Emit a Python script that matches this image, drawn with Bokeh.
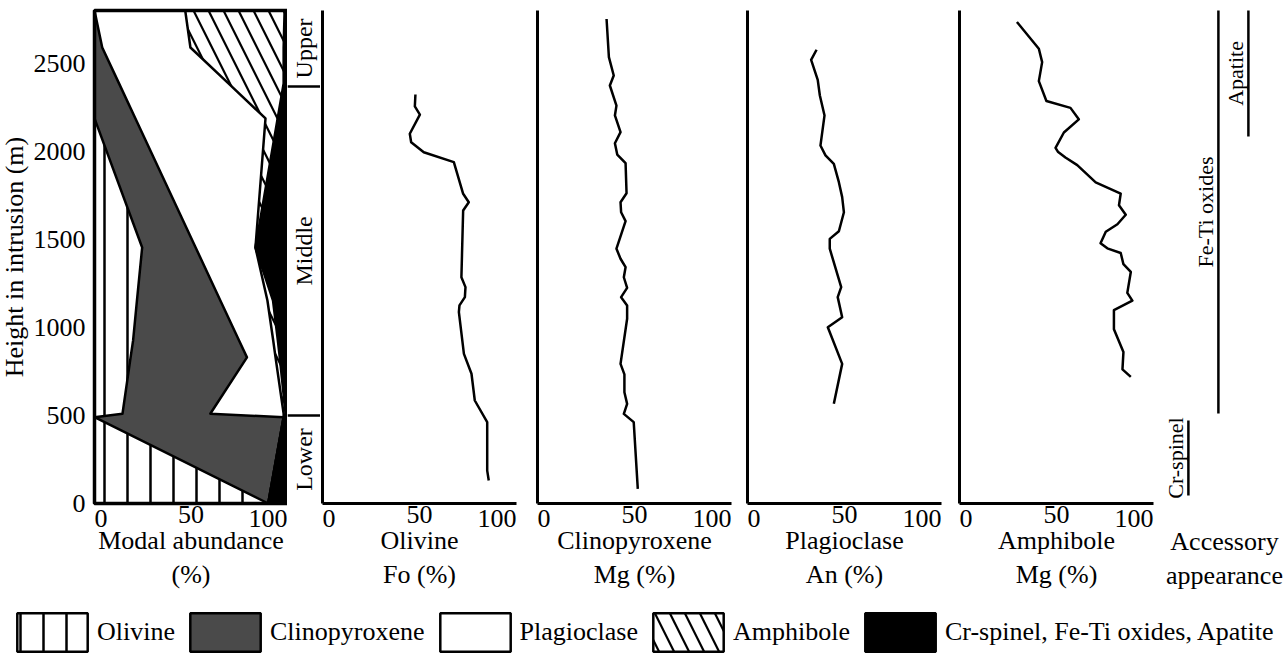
import math
from bokeh.plotting import figure
from bokeh.models import (Range1d, LinearAxis, FixedTicker, ColumnDataSource,
                          Legend, LegendItem, BoxAnnotation)
from bokeh.layouts import row, column
from bokeh.embed import file_html
from bokeh.resources import INLINE
from bokeh.core.properties import value

FONT = "Liberation Serif"

# ---------------- data ----------------
# modal abundance: cumulative boundaries (%) at heights (m)
modal_heights = [0, 490, 510, 830, 926, 1153, 1454, 2187, 2386, 2590, 2800]
cum_olivine = [90, 0, 14.5, 18.7, 20.0, 22.0, 24.7, 0, 0, 0, 0]
cum_cpx = [90, 98, 60, 79, 74.9, 65.2, 52.4, 21.2, 12.7, 4, 0]
cum_plag = [90, 98, 98, 93.8, 92.6, 89.6, 83.4, 88.6, 69.4, 49.7, 47]
cum_amph = [90, 98, 99, 96, 95, 92.5, 83.4, 94.9, 98, 98, 98.5]
cum_total = [100, 100, 100, 100, 100, 100, 100, 100, 100, 100, 100]

# olivine Fo (%)
ol_h = [131, 187, 462, 585, 737, 850, 1087, 1125, 1172, 1229, 1285, 1664, 1711,
        1759, 1939, 1995, 2052, 2100, 2209, 2255, 2323]
ol_fo = [85.7, 84.9, 84.9, 78.5, 76.8, 72.9, 70.3, 70.6, 73.4, 73.7, 71.6, 72.5,
         75.4, 72.5, 67.7, 52.2, 45.7, 45.0, 50.2, 47.6, 47.9]

# clinopyroxene Mg (%)
cpx_h = [83, 462, 509, 566, 632, 733, 793, 1049, 1125, 1172, 1225, 1285, 1342,
         1390, 1447, 1604, 1654, 1711, 1762, 1933, 1982, 2046, 2109, 2204, 2260,
         2374, 2431, 2535, 2752]
cpx_mg = [51.7, 49.6, 44.5, 46.2, 44.8, 44.8, 42.8, 46.2, 46.2, 43.1, 46.2, 44.5,
          45.4, 42.8, 40.7, 45.4, 43.1, 42.8, 45.9, 45.4, 41.1, 39.9, 42.8, 39.9,
          40.7, 37.3, 39.3, 36.8, 35.6]

# plagioclase An (%)
pl_h = [566, 793, 1001, 1058, 1172, 1229, 1447, 1503, 1546, 1654, 1740, 1825,
        1929, 1977, 2033, 2204, 2317, 2406, 2520, 2577]
pl_an = [44.5, 48.8, 41.4, 48.8, 46.5, 48.3, 42.4, 42.4, 47.1, 49.7, 48.8, 47.1,
         44.5, 40.2, 37.6, 39.7, 37.3, 36.2, 32.8, 35.6]

# amphibole Mg (%)
am_h = [719, 762, 860, 990, 1098, 1152, 1196, 1315, 1359, 1423, 1449, 1478, 1543,
        1586, 1640, 1694, 1760, 1824, 1922, 1965, 1998, 2020, 2107, 2182, 2247,
        2286, 2399, 2507, 2583, 2735]
am_mg = [88.3, 84.0, 84.5, 79.6, 79.6, 89.1, 86.5, 88.3, 84.5, 83.1, 76.2, 72.7,
         75.4, 81.4, 85.7, 82.2, 83.1, 70.2, 60.7, 54.6, 50.7, 49.5, 53.8, 61.5,
         57.2, 44.8, 40.9, 42.6, 40.9, 29.6]

# stratigraphic units
units = ["Lower", "Middle", "Upper"]
unit_bottom = [0, 500, 2369]
unit_top = [500, 2369, 2800]

# accessory minerals
acc_names = ["Cr-spinel", "Fe-Ti oxides", "Apatite"]
acc_start = [45, 511, 2085]
acc_end = [471, 2800, 2800]

y_ticks = [0, 500, 1000, 1500, 2000, 2500]
x_ticks = [0, 50, 100]
H_MIN, H_MAX = 0, 2800
P_MIN, P_MAX = 0, 100

legend_names = ["Olivine", "Clinopyroxene", "Plagioclase", "Amphibole",
                "Cr-spinel, Fe-Ti oxides, Apatite"]

# ---------------- styles / layout ----------------
CPX_COLOR = "#4a4a4a"
OL_HATCH = dict(fill_color="white", hatch_pattern="|", hatch_color="black",
                hatch_weight=2.5, hatch_scale=23)
AM_HATCH = dict(fill_color="white", hatch_pattern="\\", hatch_color="black",
                hatch_weight=2.2, hatch_scale=30)
TICK_FS = "26px"
LABEL_FS = "26px"

# vertical layout (screen px): figure top 0, data top at 10, data bottom at 503
FIG_H = 603
Y_TOP_PX, Y_BOT_PX = 10, 503
ky = (Y_BOT_PX - Y_TOP_PX) / (H_MAX - H_MIN)
Y_RANGE = Range1d(H_MIN - (FIG_H - Y_BOT_PX) / ky, H_MAX + Y_TOP_PX / ky)


def x_range_for(fig_left, ax0, ax100, fig_right):
    k = (ax100 - ax0) / (P_MAX - P_MIN)
    return Range1d(P_MIN - (ax0 - fig_left) / k, P_MAX + (fig_right - ax100) / k)


def base_fig(width, x_range):
    p = figure(width=width, height=FIG_H, x_range=x_range, y_range=Y_RANGE,
               output_backend="svg", toolbar_location=None,
               x_axis_location=None, y_axis_location=None, min_border=0)
    p.grid.visible = False
    p.outline_line_color = None
    p.background_fill_color = "white"
    p.border_fill_color = "white"
    return p


def no_ticks():
    return dict(major_tick_out=0, major_tick_in=0, minor_tick_out=0, minor_tick_in=0)


def add_bottom_axes(p, label):
    common = dict(fixed_location=H_MIN, major_label_text_font=FONT,
                  major_label_text_font_size=TICK_FS, major_label_text_color="black",
                  **no_ticks())
    mid = LinearAxis(ticker=FixedTicker(ticks=[x_ticks[1]]), bounds=(P_MIN, P_MAX),
                     axis_line_width=3, axis_line_color="black",
                     major_label_standoff=2, axis_label=label,
                     axis_label_text_font=FONT, axis_label_text_font_size=LABEL_FS,
                     axis_label_text_font_style="normal", axis_label_text_color="black",
                     axis_label_standoff=0, **common)
    lo = LinearAxis(ticker=FixedTicker(ticks=[x_ticks[0]]), axis_line_color=None,
                    major_label_orientation=-1e-6, major_label_standoff=15, **common)
    hi = LinearAxis(ticker=FixedTicker(ticks=[x_ticks[2]]), axis_line_color=None,
                    major_label_orientation=1e-6, major_label_standoff=15, **common)
    for ax in (mid, lo, hi):
        p.add_layout(ax, "below")


def add_plain_yaxis(p):
    ax = LinearAxis(fixed_location=P_MIN, ticker=FixedTicker(ticks=[]),
                    bounds=(H_MIN, H_MAX), axis_line_width=3, axis_line_color="black",
                    major_label_text_font_size="0px", major_label_standoff=0, **no_ticks())
    p.add_layout(ax, "left")


# ---------------- modal abundance panel ----------------
pm = base_fig(287, x_range_for(0, 94, 287, 287))
zeros = [0] * len(modal_heights)
pm.harea(x1=zeros, x2=cum_olivine, y=modal_heights, **OL_HATCH)
pm.harea(x1=cum_olivine, x2=cum_cpx, y=modal_heights, fill_color=CPX_COLOR)
pm.harea(x1=cum_cpx, x2=cum_plag, y=modal_heights, fill_color="white")
pm.harea(x1=cum_plag, x2=cum_amph, y=modal_heights, **AM_HATCH)
pm.harea(x1=cum_amph, x2=cum_total, y=modal_heights, fill_color="black")
for b in (cum_olivine, cum_cpx, cum_plag, cum_amph):
    pm.line(x=b, y=modal_heights, line_color="black", line_width=2.5, line_join="round")
pm.add_layout(BoxAnnotation(left=P_MIN, right=P_MAX, bottom=H_MIN, top=H_MAX,
                            fill_alpha=0, line_color="black", line_alpha=1.0,
                            line_width=3.5))
yax = LinearAxis(fixed_location=P_MIN, ticker=FixedTicker(ticks=y_ticks),
                 bounds=(H_MIN, H_MAX), axis_line_width=3, axis_line_color="black",
                 major_label_text_font=FONT, major_label_text_font_size=TICK_FS,
                 major_label_text_color="black", major_label_standoff=9,
                 axis_label="Height in intrusion (m)", axis_label_text_font=FONT,
                 axis_label_text_font_size=LABEL_FS, axis_label_text_font_style="normal",
                 axis_label_text_color="black", axis_label_standoff=2, **no_ticks())
pm.add_layout(yax, "left")
add_bottom_axes(pm, "Modal abundance\n(%)")

# ---------------- stratigraphic column ----------------
ps = base_fig(33, Range1d(0, 1))
ps.hspan(y=unit_bottom[1:], line_color="black", line_width=2.5)
unit_src = ColumnDataSource(dict(
    name=units,
    y=[(b + t) / 2 for b, t in zip(unit_bottom, unit_top)],
    x=[0.5] * len(units)))
ps.text(x="x", y="y", text="name", source=unit_src, angle=math.pi / 2,
        text_align="center", text_baseline="middle", text_font=value(FONT),
        text_font_size="24px", text_color="black")


# ---------------- mineral chemistry panels ----------------
def mineral_panel(fig_left, ax0, ax100, fig_right, h, v, label):
    p = base_fig(fig_right - fig_left, x_range_for(fig_left, ax0, ax100, fig_right))
    p.line(x=v, y=h, line_color="black", line_width=2.5, line_join="round")
    add_plain_yaxis(p)
    add_bottom_axes(p, label)
    return p


pol = mineral_panel(320, 322, 516, 535, ol_h, ol_fo, "Olivine\nFo (%)")
pcx = mineral_panel(535, 537, 731, 745, cpx_h, cpx_mg, "Clinopyroxene\nMg (%)")
ppl = mineral_panel(745, 747, 941, 957, pl_h, pl_an, "Plagioclase\nAn (%)")
pam = mineral_panel(957, 959, 1153, 1160, am_h, am_mg, "Amphibole\nMg (%)")

# ---------------- accessory appearance ----------------
ACC_W = 128
pa = base_fig(ACC_W, Range1d(0, ACC_W / 30))
acc_idx = list(range(len(acc_names)))
acc_src = ColumnDataSource(dict(
    line_x=[i + 0.93 for i in acc_idx],
    label_x=[i + 0.5 for i in acc_idx],
    y0=acc_start, y1=acc_end,
    ym=[(s + e) / 2 for s, e in zip(acc_start, acc_end)],
    name=acc_names))
pa.segment(x0="line_x", y0="y0", x1="line_x", y1="y1", source=acc_src,
           line_color="black", line_width=2.5)
pa.text(x="label_x", y="ym", text="name", source=acc_src, angle=math.pi / 2,
        text_align="center", text_baseline="middle", text_font=value(FONT),
        text_font_size="22px", text_color="black")
acc_ax = LinearAxis(fixed_location=H_MIN, ticker=FixedTicker(ticks=[]), axis_line_color=None,
                    major_label_text_font_size="0px", axis_label="Accessory\nappearance",
                    axis_label_text_font=FONT, axis_label_text_font_size=LABEL_FS,
                    axis_label_text_font_style="normal", axis_label_text_color="black",
                    axis_label_standoff=23, **no_ticks())
pa.add_layout(acc_ax, "below")

# ---------------- legend ----------------
pf = figure(width=1288, height=50, x_range=Range1d(0, 1), y_range=Range1d(0, 1),
            output_backend="svg", toolbar_location=None,
            x_axis_location=None, y_axis_location=None, min_border=0)
pf.grid.visible = False
pf.outline_line_color = None
nan = float("nan")
styles = [OL_HATCH, dict(fill_color=CPX_COLOR), dict(fill_color="white"), AM_HATCH,
          dict(fill_color="black")]
items = []
for name, st in zip(legend_names, styles):
    src = ColumnDataSource(dict(left=[nan], right=[nan], top=[nan], bottom=[nan]))
    r = pf.quad(source=src, left="left", right="right", top="top", bottom="bottom",
                line_color="black", line_width=2.5, **st)
    items.append(LegendItem(label=name, renderers=[r]))
# area swatches are drawn with a 10 % inset; sizes chosen so the visible box is ~70x38
legend = Legend(items=items, orientation="horizontal", location=(8, -3),
                glyph_width=88, glyph_height=48, label_height=38, label_standoff=1,
                spacing=6, padding=0, margin=0, border_line_color=None,
                background_fill_alpha=0, label_text_font=FONT,
                label_text_font_size="26px", label_text_color="black")
pf.add_layout(legend)

layout = column(row(pm, ps, pol, pcx, ppl, pam, pa), pf)
open("out.html", "w").write(file_html(layout, INLINE))
